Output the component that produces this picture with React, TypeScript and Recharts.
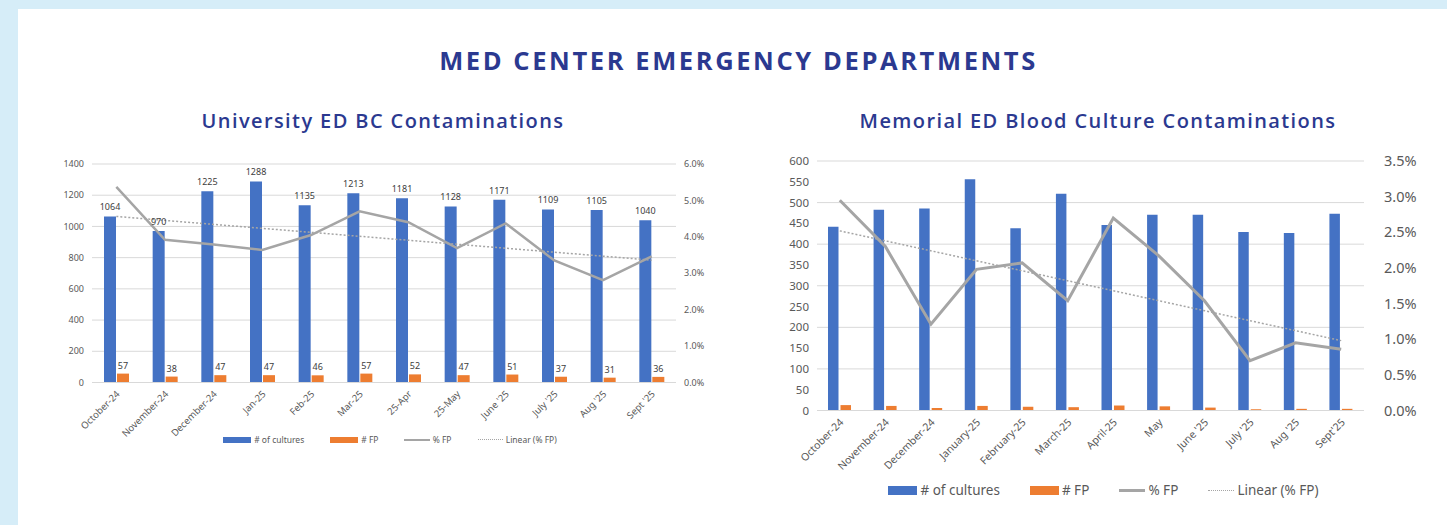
import React from "react";
import {
  Bar,
  CartesianGrid,
  ComposedChart,
  LabelList,
  Legend,
  Line,
  XAxis,
  YAxis,
} from "recharts";

const BLUE = "#4472c4";
const ORANGE = "#ed7d31";
const GREY = "#a5a5a5";
const GRID = "#d9d9d9";
const INK = "#595959";
const NAVY = "#2b3990";
const FONT = "'Noto Sans', sans-serif";

// University ED
const LEFT_MONTHS = [
  "October-24",
  "November-24",
  "December-24",
  "Jan-25",
  "Feb-25",
  "Mar-25",
  "25-Apr",
  "25-May",
  "June '25",
  "July '25",
  "Aug '25",
  "Sept '25",
];
const LEFT_CULTURES = [1064, 970, 1225, 1288, 1135, 1213, 1181, 1128, 1171, 1109, 1105, 1040];
const LEFT_FP = [57, 38, 47, 47, 46, 57, 52, 47, 51, 37, 31, 36];
const LEFT_PCT = [5.37, 3.92, 3.79, 3.64, 4.05, 4.7, 4.4, 3.69, 4.37, 3.35, 2.81, 3.46];
const LEFT_TREND = [4.56, 3.36]; // first / last point of the linear trend
const LEFT_TICKS = [0, 200, 400, 600, 800, 1000, 1200, 1400];
const LEFT_PCT_TICKS = [0, 1, 2, 3, 4, 5, 6];

// Memorial ED
const RIGHT_MONTHS = [
  "October-24",
  "November-24",
  "December-24",
  "January-25",
  "February-25",
  "March-25",
  "April-25",
  "May",
  "June '25",
  "July '25",
  "Aug '25",
  "Sept'25",
];
const RIGHT_CULTURES = [442, 483, 486, 556, 438, 521, 446, 471, 471, 429, 427, 473];
const RIGHT_FP = [13, 11, 6, 11, 9, 8, 12, 10, 7, 3, 4, 4];
const RIGHT_PCT = [2.95, 2.3, 1.21, 1.98, 2.07, 1.54, 2.7, 2.17, 1.54, 0.7, 0.95, 0.86];
const RIGHT_TREND = [2.52, 0.98];
const RIGHT_TICKS = [0, 50, 100, 150, 200, 250, 300, 350, 400, 450, 500, 550, 600];
const RIGHT_PCT_TICKS = [0, 0.5, 1, 1.5, 2, 2.5, 3, 3.5];

function build(months: string[], cultures: number[], fp: number[], pct: number[], trend: number[]) {
  const last = months.length - 1;
  return months.map((m, i) => ({
    month: m,
    cultures: cultures[i],
    fp: fp[i],
    pct: pct[i],
    trend: i === 0 ? trend[0] : i === last ? trend[1] : null,
  }));
}

const leftData = build(LEFT_MONTHS, LEFT_CULTURES, LEFT_FP, LEFT_PCT, LEFT_TREND);
const rightData = build(RIGHT_MONTHS, RIGHT_CULTURES, RIGHT_FP, RIGHT_PCT, RIGHT_TREND);

function MonthTick({ x, y, payload, fontSize }: any) {
  return (
    <g transform={`translate(${x},${y})`}>
      <text
        x={0}
        y={0}
        dy={fontSize * 0.6}
        textAnchor="end"
        transform="rotate(-45)"
        fill={INK}
        fontSize={fontSize}
        fontFamily={FONT}
      >
        {payload.value}
      </text>
    </g>
  );
}

function LegendBox({ fontSize, swatchW, swatchH, gap }: { fontSize: number; swatchW: number; swatchH: number; gap: number }) {
  const item = { display: "flex", alignItems: "center", gap: 3 } as const;
  return (
    <div
      style={{
        display: "flex",
        justifyContent: "center",
        gap,
        fontFamily: FONT,
        fontSize,
        color: INK,
        height: fontSize + 8,
        alignItems: "center",
      }}
    >
      <span style={item}>
        <span style={{ width: swatchW, height: swatchH, background: BLUE }} /># of cultures
      </span>
      <span style={item}>
        <span style={{ width: swatchW, height: swatchH, background: ORANGE }} /># FP
      </span>
      <span style={item}>
        <span style={{ width: swatchW * 0.9, height: 0, borderTop: `${Math.max(2, swatchH / 3)}px solid ${GREY}` }} />% FP
      </span>
      <span style={item}>
        <span style={{ width: swatchW * 0.9, height: 0, borderTop: `1px dotted ${GREY}` }} />Linear (% FP)
      </span>
    </div>
  );
}

const pctFmt = (v: number) => `${v.toFixed(1)}%`;

const subtitle = {
  position: "absolute",
  top: 107,
  textAlign: "center",
  fontFamily: "'Open Sans', sans-serif",
  fontWeight: 600,
  fontSize: 20,
  letterSpacing: 1.4,
  color: NAVY,
} as const;

export default function App() {
  return (
    <div
      style={{
        position: "absolute",
        left: 0,
        top: 0,
        width: 1447,
        height: 525,
        background: "#d6edf8",
        overflow: "hidden",
      }}
    >
      <div style={{ position: "absolute", left: 18, top: 9, right: 0, bottom: 0, background: "#fff" }} />

      <div
        style={{
          position: "absolute",
          left: 30,
          right: 0,
          top: 43,
          textAlign: "center",
          fontFamily: "'Open Sans', sans-serif",
          fontWeight: 700,
          fontSize: 25.5,
          letterSpacing: 2.6,
          color: NAVY,
        }}
      >
        MED CENTER EMERGENCY DEPARTMENTS
      </div>

      <div style={{ ...subtitle, left: 133, width: 500 }}>University ED BC Contaminations</div>
      <div style={{ ...subtitle, left: 798, width: 600 }}>Memorial ED Blood Culture Contaminations</div>

      {/* University ED */}
      <div style={{ position: "absolute", left: 40, top: 140 }}>
        <ComposedChart
          width={700}
          height={320}
          data={leftData}
          margin={{ top: 24, right: 0, left: 0, bottom: 12 }}
          barGap={1}
          barSize={12}
        >
          <CartesianGrid stroke={GRID} vertical={false} yAxisId="l" />
          <XAxis
            dataKey="month"
            interval={0}
            height={49}
            tickLine={false}
            axisLine={{ stroke: GRID }}
            tick={<MonthTick fontSize={9.5} />}
          />
          <YAxis
            yAxisId="l"
            domain={[0, 1400]}
            ticks={LEFT_TICKS}
            width={52}
            axisLine={false}
            tickLine={false}
            tick={{ fill: INK, fontSize: 9, fontFamily: FONT }}
          />
          <YAxis
            yAxisId="r"
            orientation="right"
            domain={[0, 6]}
            ticks={LEFT_PCT_TICKS}
            tickFormatter={pctFmt}
            width={64}
            axisLine={false}
            tickLine={false}
            tick={{ fill: INK, fontSize: 9, fontFamily: FONT }}
          />
          <Bar yAxisId="l" dataKey="cultures" fill={BLUE} isAnimationActive={false}>
            <LabelList dataKey="cultures" position="top" offset={6} fill="#404040" fontSize={9} fontFamily={FONT} />
          </Bar>
          <Bar yAxisId="l" dataKey="fp" fill={ORANGE} isAnimationActive={false}>
            <LabelList dataKey="fp" position="top" offset={5} fill="#404040" fontSize={9} fontFamily={FONT} />
          </Bar>
          <Line
            yAxisId="r"
            dataKey="pct"
            stroke={GREY}
            strokeWidth={2.5}
            dot={false}
            isAnimationActive={false}
          />
          <Line
            yAxisId="r"
            dataKey="trend"
            stroke={GREY}
            strokeWidth={1.5}
            strokeDasharray="2 2"
            connectNulls
            dot={false}
            isAnimationActive={false}
          />
          <Legend
            verticalAlign="bottom"
            content={<LegendBox fontSize={8.5} swatchW={28} swatchH={6} gap={26} />}
          />
        </ComposedChart>
      </div>

      {/* Memorial ED */}
      <div style={{ position: "absolute", left: 760, top: 130 }}>
        <ComposedChart
          width={687}
          height={390}
          data={rightData}
          margin={{ top: 31, right: 0, left: 0, bottom: 19 }}
          barGap={2}
          barSize={10.5}
        >
          <CartesianGrid stroke={GRID} vertical={false} yAxisId="l" />
          <XAxis
            dataKey="month"
            interval={0}
            height={69}
            tickLine={false}
            axisLine={{ stroke: GRID }}
            tick={<MonthTick fontSize={10.5} />}
          />
          <YAxis
            yAxisId="l"
            domain={[0, 600]}
            ticks={RIGHT_TICKS}
            width={57}
            axisLine={false}
            tickLine={false}
            tick={{ fill: INK, fontSize: 11.5, fontFamily: FONT }}
          />
          <YAxis
            yAxisId="r"
            orientation="right"
            domain={[0, 3.5]}
            ticks={RIGHT_PCT_TICKS}
            tickFormatter={pctFmt}
            width={83}
            axisLine={false}
            tickLine={false}
            tickMargin={14}
            tick={{ fill: INK, fontSize: 14.5, fontFamily: FONT }}
          />
          <Bar yAxisId="l" dataKey="cultures" fill={BLUE} isAnimationActive={false} />
          <Bar yAxisId="l" dataKey="fp" fill={ORANGE} isAnimationActive={false} />
          <Line
            yAxisId="r"
            dataKey="pct"
            stroke={GREY}
            strokeWidth={3}
            dot={false}
            isAnimationActive={false}
          />
          <Line
            yAxisId="r"
            dataKey="trend"
            stroke={GREY}
            strokeWidth={1.5}
            strokeDasharray="2 2"
            connectNulls
            dot={false}
            isAnimationActive={false}
          />
          <Legend
            verticalAlign="bottom"
            content={<LegendBox fontSize={13.5} swatchW={29} swatchH={9} gap={30} />}
          />
        </ComposedChart>
      </div>
    </div>
  );
}
